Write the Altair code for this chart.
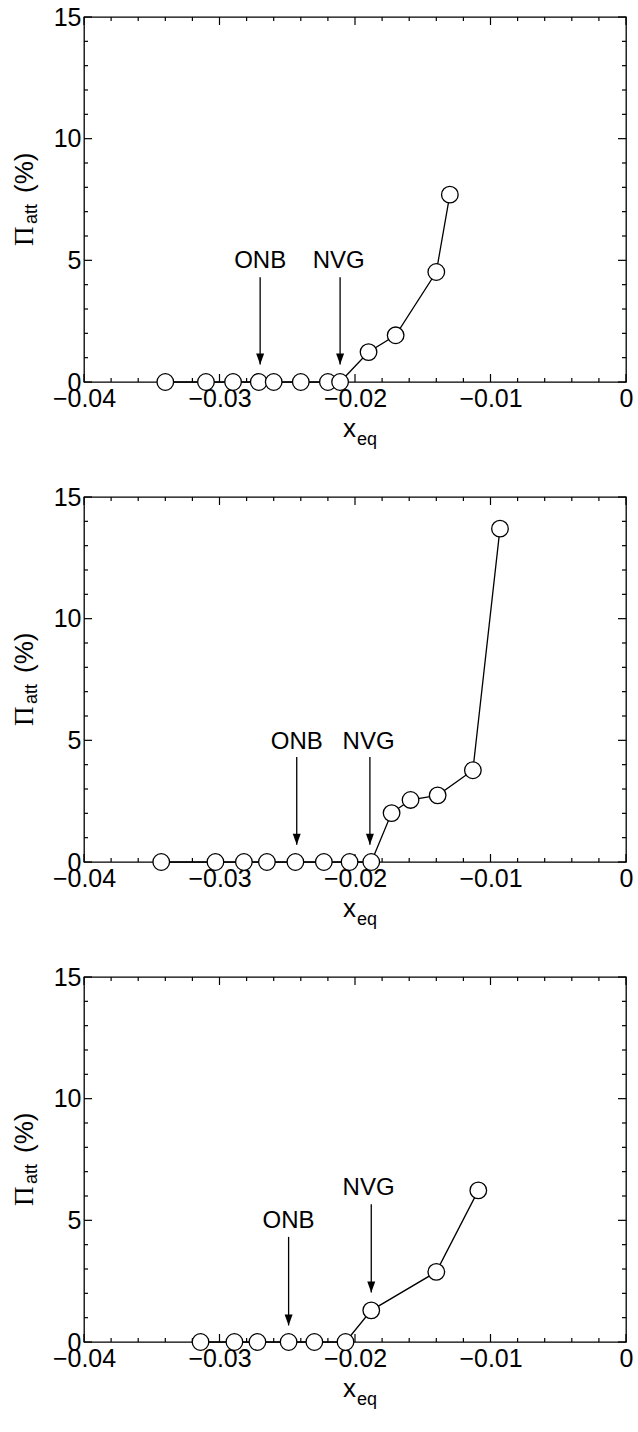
import altair as alt
import pandas as pd

W, H = 542, 365
SANS = "Liberation Sans, Arial, sans-serif"
SERIF = "Liberation Serif, Times New Roman, serif"

# ---- panel data: equilibrium quality vs. attenuation ----
p1_x = [-0.0340, -0.0310, -0.0290, -0.0271, -0.0260, -0.0240, -0.0220, -0.0211,
        -0.0190, -0.0170, -0.0140, -0.0130]
p1_y = [0, 0, 0, 0, 0, 0, 0, 0, 1.23, 1.92, 4.52, 7.70]

p2_x = [-0.0343, -0.0303, -0.0282, -0.0265, -0.0244, -0.0223, -0.0204, -0.0188,
        -0.0173, -0.0159, -0.0139, -0.0113, -0.0093]
p2_y = [0, 0, 0, 0, 0, 0, 0, 0, 2.01, 2.55, 2.74, 3.77, 13.70]

p3_x = [-0.0314, -0.0289, -0.0272, -0.0249, -0.0230, -0.0207, -0.0188, -0.0140, -0.0109]
p3_y = [0, 0, 0, 0, 0, 0, 1.30, 2.88, 6.23]

# ---- ONB / NVG markers: arrow x, arrow top, arrow tip, label x, label y ----
labels = ["ONB", "NVG"]
p1_arrow_x = [-0.0270, -0.0211]
p1_arrow_top = [4.30, 4.30]
p1_arrow_tip = [0.72, 0.72]
p1_label_x = [-0.0270, -0.0212]
p1_label_y = [4.97, 4.97]

p2_arrow_x = [-0.0243, -0.0189]
p2_arrow_top = [4.32, 4.32]
p2_arrow_tip = [0.71, 0.71]
p2_label_x = [-0.0243, -0.0190]
p2_label_y = [4.93, 4.93]

p3_arrow_x = [-0.0249, -0.0188]
p3_arrow_top = [4.32, 5.66]
p3_arrow_tip = [0.68, 2.03]
p3_label_x = [-0.0249, -0.0190]
p3_label_y = [4.97, 6.32]

# ---- axis ticks ----
x_major = [-0.04, -0.03, -0.02, -0.01, 0.0]
x_minor = [round(-0.04 + 0.002 * i, 3) for i in range(21) if i % 5 != 0]
y_major = [0, 5, 10, 15]
y_minor = [v for v in range(16) if v % 5 != 0]

MAJOR_LEN, MINOR_LEN = 8, 4
LABEL_SIZE = 25

xscale = alt.Scale(domain=[-0.04, 0], nice=False, zero=False)
yscale = alt.Scale(domain=[0, 15], nice=False)

x_axis = alt.Axis(values=x_major, title=None, grid=False, ticks=False, domain=False,
                  labelFont=SANS, labelFontSize=LABEL_SIZE, labelColor="black",
                  labelPadding=4, labelFlush=False, labelOverlap=False, labelBound=False,
                  labelExpr="datum.value == 0 ? '0' : format(datum.value, '.2f')")
y_axis = alt.Axis(values=y_major, title=None, grid=False, ticks=False, domain=False,
                  labelFont=SANS, labelFontSize=LABEL_SIZE, labelColor="black",
                  labelPadding=3, labelFlush=False, labelOverlap=False, labelBound=False)


def tick_layers():
    xt = pd.DataFrame({"v": x_major + x_minor,
                       "len": [MAJOR_LEN] * len(x_major) + [MINOR_LEN] * len(x_minor)})
    yt = pd.DataFrame({"v": y_major + y_minor,
                       "len": [MAJOR_LEN] * len(y_major) + [MINOR_LEN] * len(y_minor)})
    layers = []
    for side in ("bottom", "top"):
        d = xt.copy()
        if side == "bottom":
            d["p0"], d["p1"] = H, H - d["len"]
        else:
            d["p0"], d["p1"] = 0, d["len"]
        layers.append(alt.Chart(d).mark_rule(color="black", strokeWidth=1.2).encode(
            x=alt.X("v:Q", scale=xscale, axis=x_axis),
            y=alt.Y("p0:Q", scale=None), y2="p1:Q"))
    for side in ("left", "right"):
        d = yt.copy()
        if side == "left":
            d["p0"], d["p1"] = 0, d["len"]
        else:
            d["p0"], d["p1"] = W, W - d["len"]
        layers.append(alt.Chart(d).mark_rule(color="black", strokeWidth=1.2).encode(
            y=alt.Y("v:Q", scale=yscale, axis=y_axis),
            x=alt.X("p0:Q", scale=None), x2="p1:Q"))
    return layers


def title_layers():
    one = pd.DataFrame({"k": [0]})
    t = alt.Chart(one)
    pi = t.mark_text(text="Π", font=SERIF, fontSize=27, angle=270, align="left",
                     baseline="alphabetic", color="black").encode(
        x=alt.value(-51), y=alt.value(229))
    att = t.mark_text(text="att", font=SANS, fontSize=18, angle=270, align="left",
                      baseline="alphabetic", color="black").encode(
        x=alt.value(-47), y=alt.value(207))
    pct = t.mark_text(text="(%)", font=SANS, fontSize=26, angle=270, align="left",
                      baseline="alphabetic", color="black").encode(
        x=alt.value(-51), y=alt.value(176))
    xx = t.mark_text(text="x", font=SANS, fontSize=26, align="left",
                     baseline="alphabetic", color="black").encode(
        x=alt.value(259), y=alt.value(420))
    eq = t.mark_text(text="eq", font=SANS, fontSize=18, align="left",
                     baseline="alphabetic", color="black").encode(
        x=alt.value(273), y=alt.value(428))
    return [pi, att, pct, xx, eq]


def panel(xs, ys, ax, atop, atip, lx, ly):
    pts = pd.DataFrame({"x": xs, "y": ys})
    ann = pd.DataFrame({"label": labels, "ax": ax, "top": atop, "tip": atip,
                        "lx": lx, "ly": ly})
    X = alt.X("x:Q", scale=xscale, axis=x_axis)
    Y = alt.Y("y:Q", scale=yscale, axis=y_axis)
    line = alt.Chart(pts).mark_line(color="black", strokeWidth=1.3).encode(x=X, y=Y)
    dots = alt.Chart(pts).mark_point(shape="circle", filled=True, fill="white",
                                     stroke="black", strokeWidth=1.3, size=275,
                                     opacity=1).encode(x=X, y=Y)
    a = alt.Chart(ann)
    shaft = a.mark_rule(color="black", strokeWidth=1.3).encode(
        x=alt.X("ax:Q", scale=xscale), y=alt.Y("top:Q", scale=yscale), y2="tip:Q")
    head = a.mark_point(shape="M-0.8,-2.2L0.8,-2.2L0,0Z", filled=True, fill="black",
                        strokeWidth=0, size=100, opacity=1).encode(
        x=alt.X("ax:Q", scale=xscale), y=alt.Y("tip:Q", scale=yscale))
    text = a.mark_text(font=SANS, fontSize=24, color="black", baseline="middle",
                       align="center").encode(
        x=alt.X("lx:Q", scale=xscale), y=alt.Y("ly:Q", scale=yscale), text="label:N")
    return alt.layer(*tick_layers(), line, dots, shaft, head, text,
                     *title_layers()).properties(width=W, height=H)


chart = alt.vconcat(
    panel(p1_x, p1_y, p1_arrow_x, p1_arrow_top, p1_arrow_tip, p1_label_x, p1_label_y),
    panel(p2_x, p2_y, p2_arrow_x, p2_arrow_top, p2_arrow_tip, p2_label_x, p2_label_y),
    panel(p3_x, p3_y, p3_arrow_x, p3_arrow_top, p3_arrow_tip, p3_label_x, p3_label_y),
    spacing=34,
).properties(
    padding={"left": 10, "top": 4, "right": 0, "bottom": 0},
    background="white",
).configure_view(stroke="black", strokeWidth=1.3)

chart.save("out.html", embed_options={"renderer": "svg", "actions": False})
